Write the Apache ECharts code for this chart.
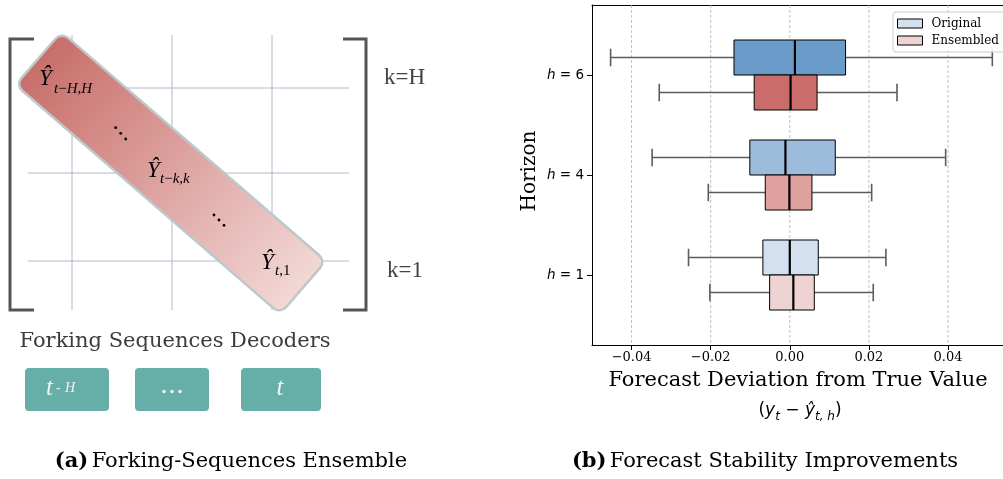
<!DOCTYPE html>
<html>
<head>
<meta charset="utf-8">
<script src="https://cdn.jsdelivr.net/npm/echarts@6/dist/echarts.min.js"></script>
<style>
  html, body { margin: 0; padding: 0; background: #ffffff; }
  #chart { width: 1003px; height: 479px; }
</style>
</head>
<body>
<div id="chart"></div>
<script>
// Forecast horizons on the y axis, bottom to top
const horizons = ['1', '4', '6'];
// Per horizon: [lower whisker, Q1, median, Q3, upper whisker]
const originalStats = [
  [-0.0256, -0.0068, 0.0000, 0.0072, 0.0243],
  [-0.0348, -0.0101, -0.0011, 0.0115, 0.0394],
  [-0.0453, -0.0141, 0.0013, 0.0141, 0.0512]
];
const ensembledStats = [
  [-0.0202, -0.0051, 0.0009, 0.0062, 0.0211],
  [-0.0206, -0.0062, -0.0001, 0.0056, 0.0207],
  [-0.0330, -0.0090, 0.0002, 0.0069, 0.0271]
];
const xTicks = [-0.04, -0.02, 0, 0.02, 0.04];
const yTicks = [0, 1, 2];

const originalColors = ['#d3e0ef', '#9dbcdc', '#6a9ac8'];
const ensembledColors = ['#efd3d2', '#dfa19e', '#c96c6a'];

const X_MIN = -0.05, X_MAX = 0.0539;
const Y_MIN = -0.7, Y_MAX = 2.7;
const BOX_H = 0.35;

const SERIF = 'DejaVu Serif';
const SANS = 'DejaVu Sans';
const TIMES = 'Liberation Serif';

function fmtTick(v) {
  return (v < 0 ? '\u2212' : '') + Math.abs(v).toFixed(2);
}

// Horizontal box with whiskers; side = +1 draws above the horizon position, -1 below
function makeBoxRenderer(side, colors) {
  return function (params, api) {
    const pos = api.value(0);
    const lo = api.value(1), q1 = api.value(2), med = api.value(3), q3 = api.value(4), hi = api.value(5);
    const yFar = pos + side * BOX_H;
    const yMid = pos + side * BOX_H / 2;
    const capA = yMid - BOX_H / 4, capB = yMid + BOX_H / 4;
    const a = api.coord([q1, Math.max(pos, yFar)]);
    const b = api.coord([q3, Math.min(pos, yFar)]);
    const whisker = { stroke: '#5c5c5c', lineWidth: 1.6 };
    const seg = (x1, y1, x2, y2, style) => {
      const p1 = api.coord([x1, y1]), p2 = api.coord([x2, y2]);
      return { type: 'line', shape: { x1: p1[0], y1: p1[1], x2: p2[0], y2: p2[1] }, style: style };
    };
    return {
      type: 'group',
      children: [
        seg(lo, yMid, q1, yMid, whisker),
        seg(q3, yMid, hi, yMid, whisker),
        seg(lo, capA, lo, capB, whisker),
        seg(hi, capA, hi, capB, whisker),
        {
          type: 'rect',
          shape: { x: a[0], y: a[1], width: b[0] - a[0], height: b[1] - a[1] },
          style: { fill: colors[params.dataIndex], stroke: '#000000', lineWidth: 1 }
        },
        seg(med, pos, med, yFar, { stroke: '#000000', lineWidth: 2.2 })
      ]
    };
  };
}

// Dashed vertical grid lines at the x ticks
function gridLineRenderer(params, api) {
  const t = api.coord([api.value(0), Y_MAX]);
  const b = api.coord([api.value(0), Y_MIN]);
  return {
    type: 'line',
    shape: { x1: t[0], y1: t[1], x2: b[0], y2: b[1] },
    style: { stroke: '#b0b0b0', lineWidth: 0.8, lineDash: [3, 2] }
  };
}

// ---------- left panel: forking-sequences diagram ----------
const diag = [];
const gridStroke = { stroke: '#b6b6cc', lineWidth: 1 };
[72, 172, 272].forEach(x => diag.push({ type: 'line', z: 1, shape: { x1: x, y1: 35, x2: x, y2: 310 }, style: gridStroke }));
[88, 173, 261].forEach(y => diag.push({ type: 'line', z: 1, shape: { x1: 28, y1: y, x2: 349, y2: y }, style: gridStroke }));

// matrix brackets
diag.push({ type: 'polyline', z: 1, shape: { points: [[34, 39], [10, 39], [10, 310], [34, 310]] },
  style: { stroke: '#555555', lineWidth: 3, fill: null } });
diag.push({ type: 'polyline', z: 1, shape: { points: [[343, 39], [366, 39], [366, 310], [343, 310]] },
  style: { stroke: '#555555', lineWidth: 3, fill: null } });

// diagonal band of forecasts
diag.push({
  type: 'rect', z: 2,
  x: 170.75, y: 173, rotation: -Math.atan2(229, 264.5),
  shape: { x: -175, y: -35, width: 350, height: 70, r: 9 },
  style: {
    fill: new echarts.graphic.LinearGradient(0, 0, 1, 0, [
      { offset: 0, color: '#c86e69' },
      { offset: 1, color: '#f2d8d6' }
    ]),
    stroke: '#bcc8ca', lineWidth: 2.5
  }
});

function yhat(x, yc, sub, subX, subYc) {
  diag.push({ type: 'text', z: 3, x: x, y: yc,
    style: { text: '\u0176', fontFamily: TIMES, fontStyle: 'italic', fontSize: 23, fill: '#000', verticalAlign: 'middle', align: 'left' } });
  diag.push({ type: 'text', z: 3, x: subX, y: subYc,
    style: {
      text: sub, verticalAlign: 'middle', align: 'left',
      rich: {
        i: { fontFamily: TIMES, fontStyle: 'italic', fontSize: 15, fill: '#000' },
        r: { fontFamily: TIMES, fontSize: 15, fill: '#000' }
      }
    } });
}
yhat(39, 79, '{i|t}{r|\u2212}{i|H}{r|,}{i|H}', 54, 89);
yhat(147, 171, '{i|t}{r|\u2212}{i|k}{r|,}{i|k}', 160, 179);
yhat(261, 263, '{i|t}{r|,1}', 275, 271);

// diagonal ellipsis dots
[[115.7, 127.7], [120.7, 133.3], [125.7, 139], [214, 215], [219, 220], [224, 225.3]].forEach(p =>
  diag.push({ type: 'circle', z: 3, shape: { cx: p[0], cy: p[1], r: 1.4 }, style: { fill: '#000' } }));

// row labels
diag.push({ type: 'text', z: 3, x: 384, y: 78, style: { text: 'k=H', fontFamily: TIMES, fontSize: 23, fill: '#444', verticalAlign: 'middle' } });
diag.push({ type: 'text', z: 3, x: 387, y: 271, style: { text: 'k=1', fontFamily: TIMES, fontSize: 23, fill: '#444', verticalAlign: 'middle' } });

diag.push({ type: 'text', z: 3, x: 175, y: 342,
  style: { text: 'Forking Sequences Decoders', fontFamily: SERIF, fontSize: 21, fill: '#3c3c3c', align: 'center', verticalAlign: 'middle' } });

// decoder chips
[[25, 84], [135, 74], [241, 80]].forEach(b =>
  diag.push({ type: 'rect', z: 2, shape: { x: b[0], y: 368, width: b[1], height: 43, r: 4 }, style: { fill: '#66aea8' } }));
diag.push({ type: 'text', z: 3, x: 46, y: 388, style: { text: 't', fontFamily: TIMES, fontStyle: 'italic', fontSize: 25, fill: '#f2f2f2', verticalAlign: 'middle' } });
diag.push({ type: 'text', z: 3, x: 56, y: 388, style: { text: '-', fontFamily: TIMES, fontSize: 14, fill: '#f2f2f2', verticalAlign: 'middle' } });
diag.push({ type: 'text', z: 3, x: 65, y: 388, style: { text: 'H', fontFamily: TIMES, fontStyle: 'italic', fontSize: 14, fill: '#f2f2f2', verticalAlign: 'middle' } });
[164, 172, 180].forEach(cx =>
  diag.push({ type: 'circle', z: 3, shape: { cx: cx, cy: 391.5, r: 1.8 }, style: { fill: '#f2f2f2' } }));
diag.push({ type: 'text', z: 3, x: 280, y: 388, style: { text: 't', fontFamily: TIMES, fontStyle: 'italic', fontSize: 25, fill: '#f2f2f2', align: 'center', verticalAlign: 'middle' } });

// ---------- titles and captions ----------
const labels = [
  { type: 'text', z: 5, x: 798, y: 381,
    style: { text: 'Forecast Deviation from True Value', fontFamily: SERIF, fontSize: 20, fill: '#000', align: 'center', verticalAlign: 'middle' },
    scaleX: 1.05 },
  { type: 'text', z: 5, x: 800, y: 411,
    style: {
      text: '{n|(}{i|y}{s|t}{n| \u2212 }{i|\u0177}{s|t, h}{n|)}',
      align: 'center', verticalAlign: 'middle',
      rich: {
        n: { fontFamily: SANS, fontSize: 17, lineHeight: 22, fill: '#000' },
        i: { fontFamily: SANS, fontStyle: 'italic', fontSize: 17, lineHeight: 22, fill: '#000' },
        s: { fontFamily: SANS, fontStyle: 'italic', fontSize: 12, lineHeight: 12, padding: [12, 0, 0, 0], fill: '#000' }
      }
    } },
  { type: 'text', z: 5, x: 530, y: 171, rotation: Math.PI / 2,
    style: { text: 'Horizon', fontFamily: SERIF, fontSize: 20, fill: '#000', align: 'center', verticalAlign: 'middle' } },
  { type: 'text', z: 5, x: 231, y: 462,
    style: {
      text: '{b|(a)} {r|Forking-Sequences Ensemble}', align: 'center', verticalAlign: 'middle',
      rich: {
        b: { fontFamily: SERIF, fontWeight: 'bold', fontSize: 21, fill: '#000' },
        r: { fontFamily: SERIF, fontSize: 21, fill: '#000' }
      }
    } },
  { type: 'text', z: 5, x: 765, y: 462,
    style: {
      text: '{b|(b)} {r|Forecast Stability Improvements}', align: 'center', verticalAlign: 'middle',
      rich: {
        b: { fontFamily: SERIF, fontWeight: 'bold', fontSize: 21, fill: '#000' },
        r: { fontFamily: SERIF, fontSize: 21, fill: '#000' }
      }
    } }
];

const chart = echarts.init(document.getElementById('chart'), null, { renderer: 'canvas' });

chart.setOption({
  animation: false,
  backgroundColor: '#ffffff',
  grid: { left: 592, right: 0, top: 5, bottom: 134, outerBoundsMode: 'none' },
  xAxis: [
    {
      type: 'value', min: X_MIN, max: X_MAX, position: 'bottom',
      axisLine: { show: true, onZero: false, lineStyle: { color: '#000', width: 1 } },
      axisTick: { show: true, customValues: xTicks, length: 5, lineStyle: { color: '#000', width: 1 } },
      axisLabel: { customValues: xTicks, formatter: fmtTick, fontFamily: SERIF, fontSize: 13, color: '#000', margin: 6 },
      splitLine: { show: false }
    },
    {
      type: 'value', min: X_MIN, max: X_MAX, position: 'top',
      axisLine: { show: true, onZero: false, lineStyle: { color: '#000', width: 1 } },
      axisTick: { show: false }, axisLabel: { show: false }, splitLine: { show: false }
    }
  ],
  yAxis: {
    type: 'value', min: Y_MIN, max: Y_MAX,
    axisLine: { show: true, onZero: false, lineStyle: { color: '#000', width: 1 } },
    axisTick: { show: true, customValues: yTicks, length: 5, lineStyle: { color: '#000', width: 1 } },
    axisLabel: {
      customValues: yTicks, margin: 8,
      formatter: v => '{i|h}{n| = ' + horizons[v] + '}',
      rich: {
        i: { fontFamily: SANS, fontStyle: 'italic', fontSize: 13.5, color: '#000' },
        n: { fontFamily: SANS, fontSize: 13.5, color: '#000' }
      }
    },
    splitLine: { show: false }
  },
  legend: {
    data: [
      { name: 'Original', itemStyle: { color: originalColors[0], borderColor: '#000', borderWidth: 1 } },
      { name: 'Ensembled', itemStyle: { color: ensembledColors[0], borderColor: '#000', borderWidth: 1 } }
    ],
    orient: 'vertical', left: 893, top: 12,
    icon: 'rect', itemWidth: 25, itemHeight: 9, itemGap: 4,
    padding: [5, 6, 5, 4],
    backgroundColor: 'rgba(255,255,255,0.85)', borderColor: '#cccccc', borderWidth: 1, borderRadius: 3,
    selectedMode: false,
    textStyle: { fontFamily: SERIF, fontSize: 12, color: '#000', lineHeight: 13, padding: [0, 0, 0, 4] }
  },
  series: [
    {
      name: 'grid', type: 'custom', z: 1, silent: true,
      data: xTicks.map(v => [v, Y_MIN]), encode: { x: 0, y: 1 },
      renderItem: gridLineRenderer
    },
    {
      name: 'Original', type: 'custom', z: 3, silent: true,
      data: originalStats.map((s, i) => [i].concat(s)), encode: { x: [1, 2, 3, 4, 5], y: 0 },
      itemStyle: { color: originalColors[0] },
      renderItem: makeBoxRenderer(1, originalColors)
    },
    {
      name: 'Ensembled', type: 'custom', z: 3, silent: true,
      data: ensembledStats.map((s, i) => [i].concat(s)), encode: { x: [1, 2, 3, 4, 5], y: 0 },
      itemStyle: { color: ensembledColors[0] },
      renderItem: makeBoxRenderer(-1, ensembledColors)
    }
  ],
  graphic: diag.concat(labels)
});
</script>
</body>
</html>
